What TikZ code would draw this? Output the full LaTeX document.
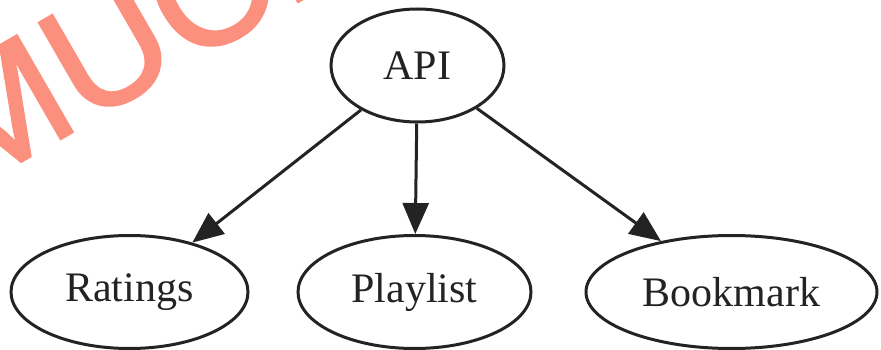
\documentclass[tikz,border=0pt]{standalone}
\usepackage{fontspec}
\setmainfont{Liberation Serif}
\newfontfamily\markfont[FakeBold=1.5]{Liberation Sans}
\usetikzlibrary{arrows.meta,shapes.geometric}
\definecolor{markcol}{RGB}{252,144,126}
\definecolor{inkcol}{RGB}{35,35,35}
\tikzset{
  svc/.style={ellipse, draw=inkcol, line width=3pt, minimum height=113pt,
    inner sep=0pt, font=\fontsize{42}{42}\selectfont, text=inkcol},
  dep/.style={draw=inkcol, line width=3pt,
    -{Triangle[length=31pt,width=26pt]}},
}
\begin{document}
\begin{tikzpicture}[x=1pt,y=-1pt]
  \useasboundingbox (0,0) rectangle (881,350);
  % stamp in the upper left corner
  \begin{scope}
    \clip (0,0) rectangle (881,350);
    \node[anchor=base west, rotate=30, inner sep=0pt, text=markcol,
      font=\markfont\fontsize{162}{162}\selectfont] (stamp) at (-33,193) {MUCH};
  \end{scope}
  % services
  \node[svc, minimum width=173pt] (api) at (417.5,65.5) {API};
  \node[svc, minimum width=237pt] (ratings) at (129.5,292) {Ratings};
  \node[svc, minimum width=233pt] (playlist) at (414.5,292) {Playlist};
  \node[svc, minimum width=291pt] (bookmark) at (731.5,292) {Bookmark};
  % dependencies
  \draw[dep] (api) -- (ratings);
  \draw[dep] (api) -- (playlist);
  \draw[dep] (api) -- (bookmark);
\end{tikzpicture}
\end{document}
